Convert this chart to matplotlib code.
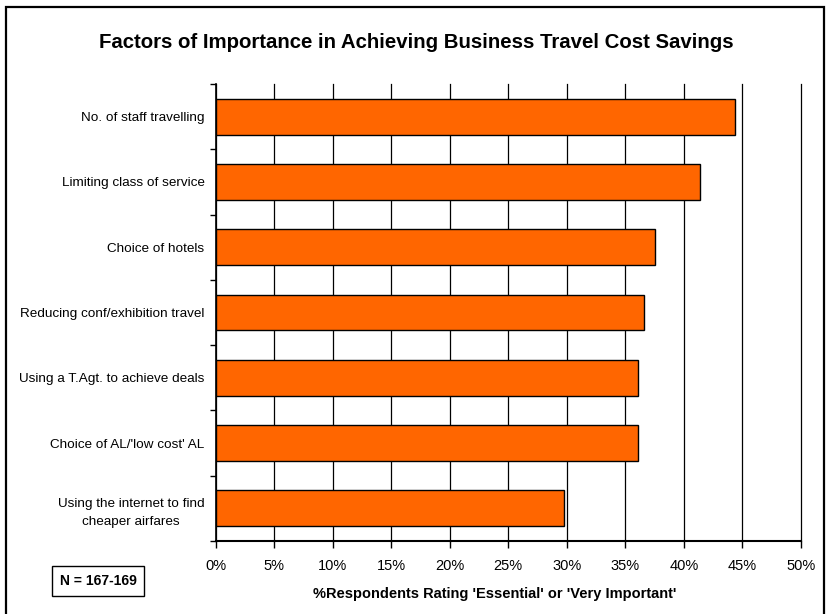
import matplotlib
matplotlib.use("Agg")
import matplotlib.pyplot as plt
from matplotlib.patches import Rectangle
import numpy as np

plt.rcParams['font.family'] = ['Liberation Sans', 'DejaVu Sans']

categories = [
    "No. of staff travelling",
    "Limiting class of service",
    "Choice of hotels",
    "Reducing conf/exhibition travel",
    "Using a T.Agt. to achieve deals",
    "Choice of AL/'low cost' AL",
    "Using the internet to find\ncheaper airfares",
]
values = [44.4, 41.4, 37.5, 36.6, 36.1, 36.1, 29.8]
x_ticks = [0, 5, 10, 15, 20, 25, 30, 35, 40, 45, 50]
x_tick_labels = [f"{t}%" for t in x_ticks]

W, H = 829, 614
fig = plt.figure(figsize=(W / 100, H / 100), dpi=100)
fig.patch.set_facecolor("white")

# outer chart frame
fig.add_artist(Rectangle((6.5 / W, -0.01), (824.5 - 6.5) / W, (H - 6.5) / H + 0.01,
                         transform=fig.transFigure, fill=False, edgecolor="black",
                         linewidth=1.6))

ax = fig.add_axes([215.5 / W, (H - 541) / H, (801 - 215.5) / W, (541 - 84) / H])

n = len(categories)
y = np.arange(n)
ax.barh(y, values, height=0.55, color="#FF6600", edgecolor="black", linewidth=1.0, zorder=3)

ax.set_xlim(0, 50)
ax.set_ylim(n - 0.5, -0.5)

ax.set_xticks(x_ticks)
ax.set_xticklabels(x_tick_labels, fontsize=10.5)
ax.tick_params(axis="x", direction="out", length=5, width=1, pad=8)
ax.xaxis.grid(True, color="black", linewidth=0.9, zorder=0)
for gl in ax.get_xgridlines():
    gl.set_clip_on(False)

ax.set_yticks(y)
ax.set_yticklabels(categories, fontsize=9.7, multialignment="center", linespacing=1.7)
ax.tick_params(axis="y", which="major", length=0, pad=8)
ax.set_yticks(np.arange(-0.5, n + 0.5, 1), minor=True)
ax.tick_params(axis="y", which="minor", direction="out", length=4, width=1)

for side in ("top", "right"):
    ax.spines[side].set_visible(False)
ax.spines["left"].set_linewidth(1.2)
ax.spines["bottom"].set_linewidth(1.5)

fig.text(416 / W, 1 - 42 / H, "Factors of Importance in Achieving Business Travel Cost Savings",
         ha="center", va="center", fontsize=14.7, fontweight="bold")

fig.text(495 / W, 1 - 594 / H, "%Respondents Rating 'Essential' or 'Very Important'",
         ha="center", va="center", fontsize=10.5, fontweight="bold")

fig.text(98 / W, 1 - 581 / H, "N = 167-169", ha="center", va="center",
         fontsize=10, fontweight="bold",
         bbox=dict(boxstyle="square,pad=0.55", facecolor="white", edgecolor="black", linewidth=1))

fig.savefig("out.png", dpi=100)
